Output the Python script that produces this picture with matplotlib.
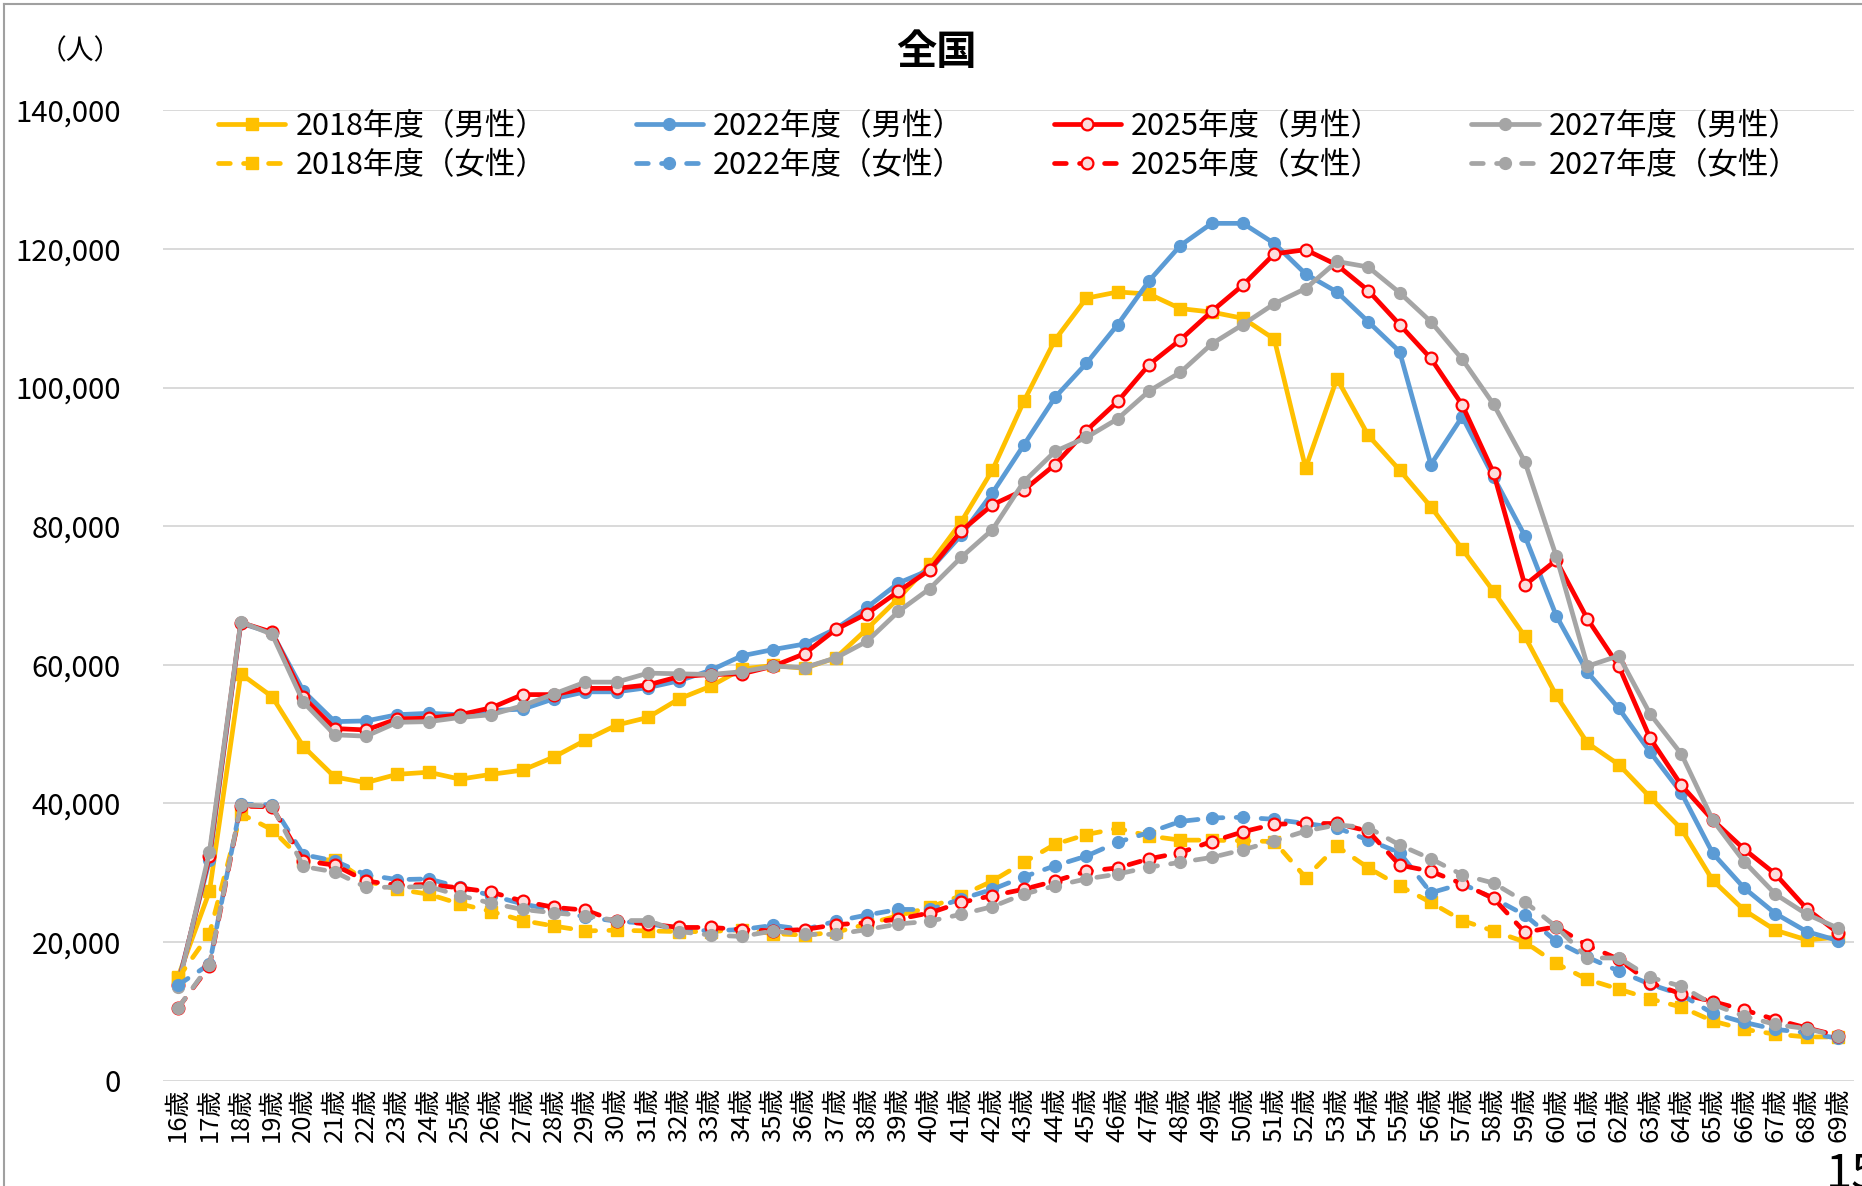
import matplotlib
matplotlib.use("Agg")
import matplotlib.pyplot as plt
from matplotlib.lines import Line2D
from matplotlib.ticker import FuncFormatter, MultipleLocator

plt.rcParams['font.family'] = ['Noto Sans CJK JP', 'DejaVu Sans']

ages = [f"{a}歳" for a in range(16, 70)]

m2018 = [15000, 27300, 58700, 55400, 48200, 43800, 43000, 44200, 44500, 43500,
         44200, 44800, 46700, 49100, 51300, 52400, 55100, 56900, 59400, 59900,
         59500, 61000, 65200, 69600, 74500, 80600, 88100, 98000, 106900, 112900,
         113800, 113500, 111400, 110900, 110000, 107000, 88400, 101300, 93100, 88100,
         82800, 76700, 70600, 64100, 55600, 48700, 45600, 40900, 36300, 28900,
         24600, 21700, 20300, 20700]
m2022 = [14200, 31800, 66000, 64600, 56200, 51800, 51900, 52800, 53000, 52800,
         53400, 53600, 55100, 56100, 56100, 56700, 57700, 59200, 61300, 62200,
         63000, 65200, 68300, 71800, 73700, 78700, 84800, 91700, 98600, 103500,
         109100, 115400, 120500, 123700, 123700, 120800, 116400, 113800, 109500, 105200,
         88900, 95800, 87100, 78600, 67100, 58900, 53700, 47400, 41500, 32800,
         27800, 24100, 21500, 20200]
m2025 = [13800, 32400, 66100, 64700, 55300, 50800, 50600, 52200, 52300, 52800,
         53800, 55700, 55700, 56600, 56600, 57100, 58300, 58600, 58700, 59800,
         61600, 65100, 67400, 70600, 73700, 79300, 83100, 85200, 88900, 93800,
         98000, 103300, 106900, 111000, 114800, 119300, 119900, 117700, 114000, 109100,
         104200, 97500, 87700, 71500, 75100, 66600, 59800, 49400, 42600, 37600,
         33400, 29800, 24800, 21300]
m2027 = [13500, 33000, 66200, 64400, 54600, 49900, 49700, 51700, 51800, 52400,
         52800, 54100, 55800, 57500, 57500, 58800, 58700, 58600, 59000, 59800,
         59600, 61000, 63400, 67700, 71000, 75500, 79500, 86400, 90800, 92800,
         95500, 99500, 102200, 106300, 109100, 112100, 114300, 118200, 117400, 113700,
         109500, 104100, 97600, 89300, 75700, 59800, 61300, 52900, 47100, 37600,
         31600, 26900, 24000, 22000]

f2018 = [14800, 21200, 38500, 36200, 31700, 31900, 28800, 27600, 26900, 25500,
         24400, 23100, 22300, 21600, 21700, 21600, 21500, 21500, 21800, 21200,
         21000, 21400, 22600, 23800, 25000, 26700, 28800, 31500, 34100, 35500,
         36400, 35300, 34700, 34700, 34600, 34500, 29300, 33800, 30700, 28100,
         25700, 23100, 21600, 20000, 16900, 14600, 13200, 11800, 10600, 8600,
         7400, 6700, 6300, 6300]
f2022 = [13800, 16800, 39900, 39800, 32600, 31700, 29700, 29000, 29100, 27900,
         26700, 25500, 24600, 23600, 23000, 22700, 21800, 21600, 21800, 22400,
         21800, 23000, 23900, 24700, 24700, 26200, 27600, 29400, 31000, 32400,
         34400, 35800, 37400, 37900, 38000, 37700, 37100, 36500, 34700, 32900,
         27100, 28400, 26300, 23900, 20100, 17800, 15800, 13900, 12400, 9700,
         8400, 7400, 6900, 6100]
f2025 = [10500, 16500, 39600, 39500, 31700, 31100, 28800, 28200, 28300, 27800,
         27200, 25900, 25000, 24600, 23000, 22600, 22100, 22100, 21800, 21600,
         21800, 22500, 22800, 23300, 24200, 25700, 26700, 27600, 28800, 30200,
         30700, 32000, 32900, 34500, 35900, 37000, 37100, 37100, 36000, 31100,
         30200, 28400, 26300, 21400, 22200, 19500, 17500, 14100, 12500, 11400,
         10200, 8800, 7600, 6500]
f2027 = [10500, 16700, 39800, 39600, 30900, 30100, 27900, 27900, 28000, 26700,
         25600, 24700, 24200, 23800, 23100, 23100, 21500, 21000, 20800, 21600,
         21100, 21100, 21800, 22600, 23000, 24000, 25100, 26900, 28100, 29100,
         29800, 30800, 31500, 32200, 33300, 34600, 36000, 36900, 36500, 34000,
         32000, 29700, 28500, 25800, 22200, 17700, 17700, 14900, 13600, 11000,
         9300, 8100, 7500, 6400]

labels_m = ["2018年度（男性）", "2022年度（男性）", "2025年度（男性）", "2027年度（男性）"]
labels_f = ["2018年度（女性）", "2022年度（女性）", "2025年度（女性）", "2027年度（女性）"]

W, H = 1862, 1186
fig = plt.figure(figsize=(W / 100, H / 100), dpi=100)
ax = fig.add_axes([162.5 / W, 1 - 1080.6 / H, (1853.7 - 162.5) / W, (1080.6 - 110.4) / H])

x = list(range(len(ages)))
styles = [
    dict(color="#FFC000", marker="s", ms=9, mfc="#FFC000", mec="#FFC000"),
    dict(color="#5B9BD5", marker="o", ms=8.5, mfc="#5B9BD5", mec="#5B9BD5"),
    dict(color="#FF0000", marker="o", ms=8.5, mfc="#FCDCDC", mec="#FF0000", mew=1.6),
    dict(color="#A5A5A5", marker="o", ms=8.5, mfc="#A5A5A5", mec="#A5A5A5"),
]
males = [m2018, m2022, m2025, m2027]
females = [f2018, f2022, f2025, f2027]

handles = {}
z = 3
for ys, st, lab in zip(males, styles, labels_m):
    h, = ax.plot(x, ys, lw=3.4, label=lab, zorder=z, solid_capstyle='round',
                 solid_joinstyle='round', **st)
    handles[lab] = h
    z += 1
for ys, st, lab in zip(females, styles, labels_f):
    h, = ax.plot(x, ys, lw=3.4, label=lab, zorder=z, linestyle=(0, (2.5, 2.8)),
                 dash_capstyle='round', **st)
    handles[lab] = h
    z += 1

ax.set_xlim(-0.5, len(ages) - 0.5)
ax.set_ylim(0, 140000)
ax.yaxis.set_major_locator(MultipleLocator(20000))
ax.yaxis.set_major_formatter(FuncFormatter(lambda v, p: f"{int(v):,}"))
ax.set_xticks(x)
ax.set_xticklabels(ages, rotation=90, fontsize=18.5)
ax.tick_params(axis='x', length=0, pad=5)
ax.tick_params(axis='y', length=0, pad=30, labelsize=21)
ax.grid(axis='y', color="#D9D9D9", lw=1.4, zorder=0)
for s in ax.spines.values():
    s.set_visible(False)
ax.set_axisbelow(True)

order = [labels_m[0], labels_f[0], labels_m[1], labels_f[1],
         labels_m[2], labels_f[2], labels_m[3], labels_f[3]]
leg = fig.legend([handles[k] for k in order], order, loc='upper left',
                 bbox_to_anchor=(218 / W, 1 - 111 / H), ncol=4, frameon=False,
                 fontsize=22, handlelength=2.2, handletextpad=0.33,
                 columnspacing=2.93, labelspacing=0.25, borderpad=0, borderaxespad=0)

fig.text(936 / W, 1 - 53 / H, "全国", ha='center', va='center', fontsize=29, fontweight='bold')
fig.text(80 / W, 1 - 51 / H, "（人）", ha='center', va='center', fontsize=20)
fig.text(1826 / W, 1 - 1150 / H, "15", ha='left', va='top', fontsize=34)

fig.add_artist(Line2D([3.5 / W, 3.5 / W], [0, 1 - 4 / H], color="#A0A0A0", lw=1.5))
fig.add_artist(Line2D([3.5 / W, 1], [1 - 4 / H, 1 - 4 / H], color="#A0A0A0", lw=1.5))

fig.savefig("out.png", dpi=100)
